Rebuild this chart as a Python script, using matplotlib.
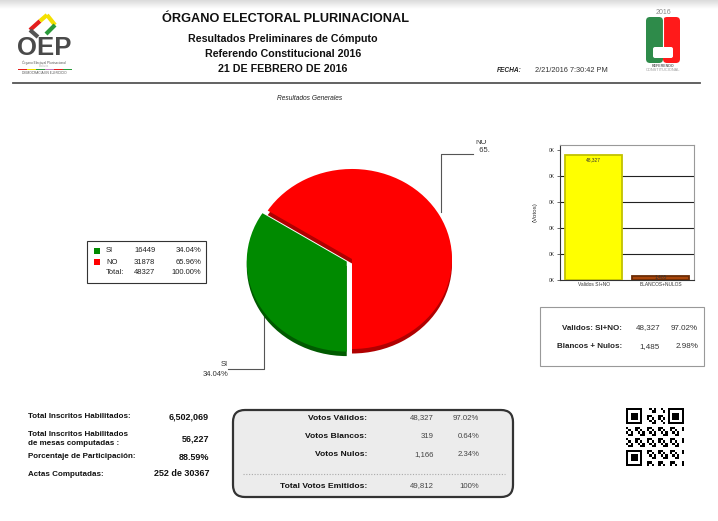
import numpy as np
import matplotlib
matplotlib.use('Agg')
import matplotlib.pyplot as plt
from matplotlib.patches import Rectangle, FancyBboxPatch

plt.rcParams['font.family'] = ['Liberation Sans', 'DejaVu Sans']

# ---- data ----
pie_labels = ['SI', 'NO']
pie_votes = [16449, 31878]
pie_colors = ['#008a00', '#ff0000']
pie_shadow = ['#005a00', '#b00000']

bar_labels = ['Validos SI+NO', 'BLANCOS+NULOS']
bar_votes = [48327, 1485]
bar_colors = ['#ffff00', '#a9470c']
bar_edges = ['#c2c200', '#6b2c05']
bar_ticks = [0, 10000, 20000, 30000, 40000, 50000]
bar_tick_labels = ['0K', '0K', '0K', '0K', '0K', '0K']

resumen_labels = ['Validos: SI+NO:', 'Blancos + Nulos:']

padron_labels = ['Total Inscritos Habilitados:',
                 'Total Inscritos Habilitados\nde mesas computadas :',
                 'Porcentaje de Participación:',
                 'Actas Computadas:']
padron_values = ['6,502,069', '56,227', '88.59%', '252 de 30367']

votos_labels = ['Votos Válidos:', 'Votos Blancos:', 'Votos Nulos:']
votos_values = [48327, 319, 1166]
total_label = 'Total Votos Emitidos:'
total_emitidos = 49812

W, H = 718, 521
fig = plt.figure(figsize=(W / 100, H / 100), dpi=100)
bg = fig.add_axes([0, 0, 1, 1])
bg.set_xlim(0, W)
bg.set_ylim(H, 0)
bg.axis('off')

# top gray strip
grad = np.linspace(0.86, 1.0, 20).reshape(-1, 1)
bg.imshow(np.dstack([grad, grad, grad]), extent=(0, W, 9, 0), aspect='auto', zorder=0)

# ---- header ----
bg.text(285, 19, 'ÓRGANO ELECTORAL PLURINACIONAL', ha='center', va='center',
        fontsize=9.2, fontweight='bold', color='#111')
for txt, y in [('Resultados Preliminares de Cómputo', 39),
               ('Referendo Constitucional 2016', 54),
               ('21 DE FEBRERO DE 2016', 69)]:
    bg.text(283, y, txt, ha='center', va='center', fontsize=7.7, fontweight='bold', color='#111')
bg.text(497, 71, 'FECHA:', ha='left', va='center', fontsize=4.8,
        fontweight='bold', fontstyle='italic', color='#222')
bg.text(535, 70, '2/21/2016 7:30:42 PM', ha='left', va='center', fontsize=5.3, color='#333')
bg.plot([13, 700], [83, 83], color='#555555', lw=1.3)
bg.text(310, 99, 'Resultados Generales', ha='center', va='center', fontsize=4.8,
        fontstyle='italic', color='#222')

# OEP logo
bg.plot([30, 40], [30, 21], color='#e41e1e', lw=3, solid_capstyle='butt')
bg.plot([40, 47], [21, 15], color='#f4e000', lw=3, solid_capstyle='butt')
bg.plot([47, 55], [15, 25], color='#f4e000', lw=3, solid_capstyle='butt')
bg.plot([55, 46], [25, 34], color='#2a9a3a', lw=3, solid_capstyle='butt')
bg.plot([30, 38], [30, 37], color='#555555', lw=3, solid_capstyle='butt')
bg.text(44, 48, 'OEP', ha='center', va='center', fontsize=18.5, fontweight='bold', color='#4a4a4a')
bg.text(44, 62.5, 'Órgano Electoral Plurinacional', ha='center', va='center', fontsize=2.3, color='#555')
bg.text(44, 66, 'Bolivia', ha='center', va='center', fontsize=2.5, color='#bbb')
for k, c in enumerate(['#e41e1e', '#f4e000', '#2a9a3a', '#c080c0', '#e41e1e', '#2a9a3a']):
    bg.add_patch(Rectangle((18 + k * 9, 68.5), 9, 1.5, color=c, lw=0))
bg.text(44, 73, 'DEMOCRACIA EN EJERCICIO', ha='center', va='center', fontsize=2.3, color='#555')

# Referendo logo
bg.text(663, 13, '2016', ha='center', va='center', fontsize=5, color='#888')
bg.add_patch(FancyBboxPatch((646, 17), 17, 46, boxstyle='round,pad=0,rounding_size=4',
                            fc='#2e8b4a', ec='none'))
bg.add_patch(FancyBboxPatch((663, 17), 17, 46, boxstyle='round,pad=0,rounding_size=4',
                            fc='#ff1a1a', ec='none'))
bg.plot([663, 663], [17, 48], color='white', lw=0.8)
bg.add_patch(FancyBboxPatch((653, 47), 20, 11, boxstyle='round,pad=0,rounding_size=2',
                            fc='white', ec='none'))
bg.text(663, 66, 'REFERENDO', ha='center', va='center', fontsize=2.6, fontweight='bold', color='#666')
bg.text(663, 70, 'CONSTITUCIONAL', ha='center', va='center', fontsize=2.8, color='#999')

# ---- pie ----
pax = fig.add_axes([190 / W, 1 - 385 / H, 300 / W, 245 / H])
explode = [0.06, 0]
pax.pie(pie_votes, colors=pie_shadow, startangle=270, counterclock=False,
        explode=explode, center=(0, -0.05), wedgeprops=dict(lw=0))
pax.pie(pie_votes, colors=pie_colors, startangle=270, counterclock=False,
        explode=explode, wedgeprops=dict(lw=0))
pax.set_aspect('auto')
pax.set_xlim(-1.62, 1.38)
pax.set_ylim(-1.4, 1.322)
pax.axis('off')

total_pie = sum(pie_votes)
pcts = [100 * v / total_pie for v in pie_votes]

# leader lines
bg.plot([441, 441, 473], [212, 154, 154], color='#555', lw=0.8)
t = bg.text(475, 154, f'NO\n  {pcts[1]:.2f}%', ha='left', va='bottom', fontsize=5.5,
            color='#333', linespacing=1.1)
t.set_clip_box(pax.bbox)
t.set_clip_on(True)
bg.plot([264, 264, 228], [307, 369, 369], color='#555', lw=0.8)
bg.text(228, 368, pie_labels[0], ha='right', va='bottom', fontsize=5.5, color='#333')
bg.text(228, 371, f'{pcts[0]:.2f}%', ha='right', va='top', fontsize=5.5, color='#333')

# pie legend
bg.add_patch(Rectangle((87, 241), 119, 42, fc='white', ec='#333', lw=0.8))
for i, (lab, v) in enumerate(zip(pie_labels, pie_votes)):
    y = 251 + i * 11
    bg.add_patch(Rectangle((94, y - 3), 6, 6, fc=pie_colors[i], ec='none'))
    bg.text(106, y, lab, ha='left', va='center', fontsize=5.5, color='#222')
    bg.text(134, y, f'{v}', ha='left', va='center', fontsize=5.5, color='#222')
    bg.text(201, y, f'{pcts[i]:.2f}%', ha='right', va='center', fontsize=5.5, color='#222')
bg.text(106, 273, 'Total:', ha='left', va='center', fontsize=5.5, color='#222')
bg.text(134, 273, f'{total_pie}', ha='left', va='center', fontsize=5.5, color='#222')
bg.text(201, 273, f'{100:.2f}%', ha='right', va='center', fontsize=5.5, color='#222')

# ---- bar chart ----
bax = fig.add_axes([560 / W, 1 - 280 / H, 134 / W, 135 / H])
xpos = np.arange(len(bar_votes))
bax.bar(xpos, bar_votes, width=0.85, color=bar_colors, edgecolor=bar_edges, lw=1.3, zorder=3)
bax.set_xlim(-0.5, 1.5)
bax.set_ylim(0, 52000)
bax.set_yticks(bar_ticks)
bax.set_yticklabels(bar_tick_labels)
bax.set_xticks(xpos)
bax.set_xticklabels(bar_labels)
bax.tick_params(axis='both', labelsize=3.5, length=2, width=0.5, pad=1.5, colors='#333')
bax.tick_params(axis='x', length=0)
for yv in bar_ticks[1:-1]:
    bax.axhline(yv, color='#222', lw=0.8, zorder=1)
for s in bax.spines.values():
    s.set_color('#999')
    s.set_linewidth(0.8)
bax.spines['left'].set_color('#333')
bax.spines['bottom'].set_color('#333')
bax.set_ylabel('(Votos)', fontsize=4.5, color='#333', labelpad=8)
for xi, v in zip(xpos, bar_votes):
    bax.text(xi, v - 1200, f'{v:,}', ha='center', va='top' if v > 5000 else 'bottom',
             fontsize=3.5, color='#333', zorder=4)

# summary box right
bg.add_patch(Rectangle((540, 307), 164, 59, fc='white', ec='#999', lw=0.8))
res_vals = [bar_votes[0], bar_votes[1]]
res_tot = sum(res_vals)
for i, (lab, v) in enumerate(zip(resumen_labels, res_vals)):
    y = 328 + i * 19
    bg.text(622, y, lab, ha='right', va='center', fontsize=5.8, fontweight='bold', color='#222')
    bg.text(660, y, f'{v:,}', ha='right', va='center', fontsize=5.8, color='#333')
    bg.text(698, y, f'{100 * v / res_tot:.2f}%', ha='right', va='center', fontsize=5.8, color='#333')

# ---- bottom left stats ----
pad_y = [417, 439, 457, 474]
for lab, val, y in zip(padron_labels, padron_values, pad_y):
    bg.text(28, y, lab, ha='left', va='center', fontsize=5.8, fontweight='bold',
            color='#111', linespacing=1.4)
    bg.text(209, y, val, ha='right', va='center', fontsize=6.5, fontweight='bold', color='#111')

# ---- rounded votes box ----
bg.add_patch(FancyBboxPatch((233, 410), 280, 87, boxstyle='round,pad=0,rounding_size=12',
                            fc='#ececec', ec='#333', lw=1.6))
for i, (lab, v) in enumerate(zip(votos_labels, votos_values)):
    y = 418 + i * 18.5
    bg.text(367, y, lab, ha='right', va='center', fontsize=6.1, fontweight='bold', color='#111')
    bg.text(434, y, f'{v:,}', ha='right', va='center', fontsize=5.6, color='#444')
    bg.text(479, y, f'{100 * v / total_emitidos:.2f}%', ha='right', va='center', fontsize=5.6, color='#444')
bg.plot([243, 505], [474, 474], color='#aaa', lw=0.8, ls=(0, (1, 1.5)))
bg.text(367, 486, total_label, ha='right', va='center', fontsize=6.1, fontweight='bold', color='#111')
bg.text(434, 486, f'{total_emitidos:,}', ha='right', va='center', fontsize=5.6, color='#444')
bg.text(479, 486, '100%', ha='right', va='center', fontsize=5.6, color='#444')

# ---- QR code ----
n = 25
qr = np.zeros((n, n))
ii, jj = np.meshgrid(np.arange(n), np.arange(n), indexing='ij')
qr[((ii * 7 + jj * 13 + ii * jj) % 5) < 2] = 1
for (r0, c0) in [(0, 0), (0, n - 7), (n - 7, 0)]:
    qr[max(r0 - 1, 0):r0 + 8, max(c0 - 1, 0):c0 + 8] = 0
    qr[r0:r0 + 7, c0:c0 + 7] = 1
    qr[r0 + 1:r0 + 6, c0 + 1:c0 + 6] = 0
    qr[r0 + 2:r0 + 5, c0 + 2:c0 + 5] = 1
bg.imshow(1 - qr, cmap='gray', vmin=0, vmax=1, extent=(626, 684, 466, 408),
          interpolation='nearest', aspect='auto', zorder=2)

fig.savefig('out.png', dpi=100)
